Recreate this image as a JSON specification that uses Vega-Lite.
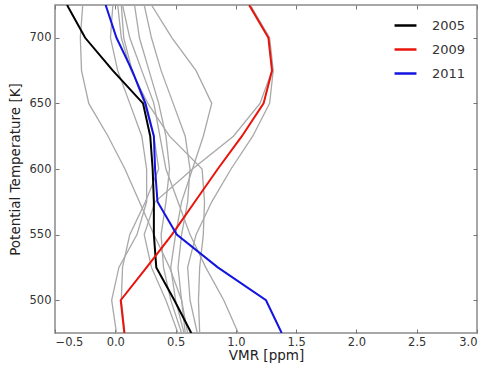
{
  "$schema": "https://vega.github.io/schema/vega-lite/v6.json",
  "autosize": {"type": "none"},
  "padding": {"left": 55, "top": 5, "right": 7, "bottom": 36},
  "width": 422,
  "height": 328,
  "config": {
    "font": "DejaVu Sans",
    "view": {"stroke": "#8a8a8a", "strokeWidth": 1.5},
    "axis": {"domain": false, "grid": false, "labelFont": "DejaVu Sans", "titleFont": "DejaVu Sans", "labelColor": "#333333", "titleColor": "#222222", "labelFontSize": 11.5, "titleFontSize": 13.5, "titleFontWeight": "normal", "tickColor": "#777777", "tickSize": -4, "labelPadding": 8}
  },
  "resolve": {"axis": {"x": "independent", "y": "independent"}},
  "datasets": {
    "gray": [
      {"s": "gA", "T": 725, "v": -0.27}, {"s": "gA", "T": 700, "v": -0.29}, {"s": "gA", "T": 675, "v": -0.28}, {"s": "gA", "T": 650, "v": -0.22}, {"s": "gA", "T": 625, "v": -0.06}, {"s": "gA", "T": 600, "v": 0.08}, {"s": "gA", "T": 575, "v": 0.2}, {"s": "gA", "T": 550, "v": 0.32}, {"s": "gA", "T": 525, "v": 0.45}, {"s": "gA", "T": 500, "v": 0.55}, {"s": "gA", "T": 475, "v": 0.58},
      {"s": "gB", "T": 725, "v": -0.02}, {"s": "gB", "T": 700, "v": -0.04}, {"s": "gB", "T": 675, "v": 0.02}, {"s": "gB", "T": 650, "v": 0.12}, {"s": "gB", "T": 625, "v": 0.22}, {"s": "gB", "T": 600, "v": 0.26}, {"s": "gB", "T": 575, "v": 0.26}, {"s": "gB", "T": 550, "v": 0.18}, {"s": "gB", "T": 525, "v": 0.03}, {"s": "gB", "T": 500, "v": -0.03}, {"s": "gB", "T": 475, "v": 0.01},
      {"s": "gC", "T": 725, "v": 0.05}, {"s": "gC", "T": 700, "v": 0.07}, {"s": "gC", "T": 675, "v": 0.14}, {"s": "gC", "T": 650, "v": 0.24}, {"s": "gC", "T": 625, "v": 0.32}, {"s": "gC", "T": 600, "v": 0.36}, {"s": "gC", "T": 575, "v": 0.25}, {"s": "gC", "T": 550, "v": 0.12}, {"s": "gC", "T": 525, "v": 0.06}, {"s": "gC", "T": 500, "v": 0.05}, {"s": "gC", "T": 475, "v": 0.08},
      {"s": "gD", "T": 725, "v": 0.3}, {"s": "gD", "T": 700, "v": 0.47}, {"s": "gD", "T": 675, "v": 0.67}, {"s": "gD", "T": 650, "v": 0.8}, {"s": "gD", "T": 625, "v": 0.73}, {"s": "gD", "T": 600, "v": 0.64}, {"s": "gD", "T": 575, "v": 0.55}, {"s": "gD", "T": 550, "v": 0.5}, {"s": "gD", "T": 525, "v": 0.46}, {"s": "gD", "T": 500, "v": 0.5}, {"s": "gD", "T": 475, "v": 0.57},
      {"s": "gE", "T": 725, "v": 0.02}, {"s": "gE", "T": 700, "v": 0.05}, {"s": "gE", "T": 675, "v": 0.13}, {"s": "gE", "T": 650, "v": 0.27}, {"s": "gE", "T": 625, "v": 0.45}, {"s": "gE", "T": 600, "v": 0.72}, {"s": "gE", "T": 575, "v": 0.74}, {"s": "gE", "T": 550, "v": 0.73}, {"s": "gE", "T": 525, "v": 0.7}, {"s": "gE", "T": 500, "v": 0.69}, {"s": "gE", "T": 475, "v": 0.7},
      {"s": "gF", "T": 725, "v": 0.06}, {"s": "gF", "T": 700, "v": 0.12}, {"s": "gF", "T": 675, "v": 0.22}, {"s": "gF", "T": 650, "v": 0.32}, {"s": "gF", "T": 625, "v": 0.37}, {"s": "gF", "T": 600, "v": 0.42}, {"s": "gF", "T": 575, "v": 0.52}, {"s": "gF", "T": 550, "v": 0.62}, {"s": "gF", "T": 525, "v": 0.75}, {"s": "gF", "T": 500, "v": 0.9}, {"s": "gF", "T": 475, "v": 1.02},
      {"s": "gG", "T": 725, "v": 1.12}, {"s": "gG", "T": 700, "v": 1.28}, {"s": "gG", "T": 675, "v": 1.31}, {"s": "gG", "T": 650, "v": 1.28}, {"s": "gG", "T": 625, "v": 1.14}, {"s": "gG", "T": 600, "v": 0.96}, {"s": "gG", "T": 575, "v": 0.8}, {"s": "gG", "T": 550, "v": 0.67}, {"s": "gG", "T": 525, "v": 0.6}, {"s": "gG", "T": 500, "v": 0.62}, {"s": "gG", "T": 475, "v": 0.68},
      {"s": "gH", "T": 725, "v": 1.11}, {"s": "gH", "T": 700, "v": 1.27}, {"s": "gH", "T": 675, "v": 1.3}, {"s": "gH", "T": 650, "v": 1.2}, {"s": "gH", "T": 625, "v": 0.98}, {"s": "gH", "T": 600, "v": 0.64}, {"s": "gH", "T": 575, "v": 0.33}, {"s": "gH", "T": 550, "v": 0.24}, {"s": "gH", "T": 525, "v": 0.3}, {"s": "gH", "T": 500, "v": 0.42}, {"s": "gH", "T": 475, "v": 0.52},
      {"s": "gI", "T": 725, "v": 0.16}, {"s": "gI", "T": 700, "v": 0.2}, {"s": "gI", "T": 675, "v": 0.28}, {"s": "gI", "T": 650, "v": 0.36}, {"s": "gI", "T": 625, "v": 0.42}, {"s": "gI", "T": 600, "v": 0.45}, {"s": "gI", "T": 575, "v": 0.42}, {"s": "gI", "T": 550, "v": 0.38}, {"s": "gI", "T": 525, "v": 0.4}, {"s": "gI", "T": 500, "v": 0.46}, {"s": "gI", "T": 475, "v": 0.55},
      {"s": "gJ", "T": 725, "v": 0.24}, {"s": "gJ", "T": 700, "v": 0.3}, {"s": "gJ", "T": 675, "v": 0.38}, {"s": "gJ", "T": 650, "v": 0.48}, {"s": "gJ", "T": 625, "v": 0.58}, {"s": "gJ", "T": 600, "v": 0.62}, {"s": "gJ", "T": 575, "v": 0.6}, {"s": "gJ", "T": 550, "v": 0.55}, {"s": "gJ", "T": 525, "v": 0.52}, {"s": "gJ", "T": 500, "v": 0.55}, {"s": "gJ", "T": 475, "v": 0.6}
    ],
    "main": [
      {"s": "2005", "T": 725, "v": -0.4}, {"s": "2005", "T": 700, "v": -0.25}, {"s": "2005", "T": 675, "v": -0.02}, {"s": "2005", "T": 650, "v": 0.23}, {"s": "2005", "T": 625, "v": 0.29}, {"s": "2005", "T": 600, "v": 0.31}, {"s": "2005", "T": 575, "v": 0.32}, {"s": "2005", "T": 550, "v": 0.32}, {"s": "2005", "T": 525, "v": 0.34}, {"s": "2005", "T": 500, "v": 0.49}, {"s": "2005", "T": 475, "v": 0.63},
      {"s": "2009", "T": 725, "v": 1.11}, {"s": "2009", "T": 700, "v": 1.27}, {"s": "2009", "T": 675, "v": 1.3}, {"s": "2009", "T": 650, "v": 1.23}, {"s": "2009", "T": 625, "v": 1.05}, {"s": "2009", "T": 600, "v": 0.85}, {"s": "2009", "T": 575, "v": 0.66}, {"s": "2009", "T": 550, "v": 0.47}, {"s": "2009", "T": 525, "v": 0.26}, {"s": "2009", "T": 500, "v": 0.045}, {"s": "2009", "T": 475, "v": 0.075},
      {"s": "2011", "T": 725, "v": -0.08}, {"s": "2011", "T": 700, "v": 0.01}, {"s": "2011", "T": 675, "v": 0.14}, {"s": "2011", "T": 650, "v": 0.25}, {"s": "2011", "T": 625, "v": 0.32}, {"s": "2011", "T": 600, "v": 0.33}, {"s": "2011", "T": 575, "v": 0.35}, {"s": "2011", "T": 550, "v": 0.51}, {"s": "2011", "T": 525, "v": 0.85}, {"s": "2011", "T": 500, "v": 1.25}, {"s": "2011", "T": 475, "v": 1.38}
    ]
  },
  "layer": [
    {
      "data": {"name": "gray"},
      "mark": {"type": "line", "color": "#a8a8a8", "strokeWidth": 1.3, "clip": true},
      "encoding": {
        "x": {"field": "v", "type": "quantitative", "scale": {"domain": [-0.5, 3.0], "nice": false, "zero": false}, "axis": {"orient": "bottom", "title": "VMR [ppm]", "values": [-0.5, 0, 0.5, 1, 1.5, 2, 2.5, 3], "format": ".1f", "labelPadding": 7, "titlePadding": 1}},
        "y": {"field": "T", "type": "quantitative", "scale": {"domain": [475, 725], "nice": false, "zero": false}, "axis": {"orient": "left", "title": "Potential Temperature [K]", "values": [500, 550, 600, 650, 700], "titlePadding": 7}},
        "detail": {"field": "s"},
        "order": {"field": "T", "type": "quantitative"}
      }
    },
    {
      "data": {"name": "main"},
      "mark": {"type": "line", "strokeWidth": 2, "clip": true},
      "encoding": {
        "x": {"field": "v", "type": "quantitative", "axis": {"orient": "top", "title": null, "labels": false, "values": [-0.5, 0, 0.5, 1, 1.5, 2, 2.5, 3]}},
        "y": {"field": "T", "type": "quantitative", "axis": {"orient": "right", "title": null, "labels": false, "values": [500, 550, 600, 650, 700]}},
        "color": {"field": "s", "type": "nominal", "scale": {"domain": ["2005", "2009", "2011"], "range": ["#000000", "#e8140c", "#1414e0"]}, "legend": {"title": null, "orient": "none", "legendX": 338, "legendY": 8, "symbolType": "stroke", "symbolSize": 480, "symbolStrokeWidth": 2.5, "labelFontSize": 13, "labelFont": "DejaVu Sans", "labelColor": "#333333", "rowPadding": 4, "labelOffset": 14}},
        "order": {"field": "T", "type": "quantitative"}
      }
    }
  ]
}
